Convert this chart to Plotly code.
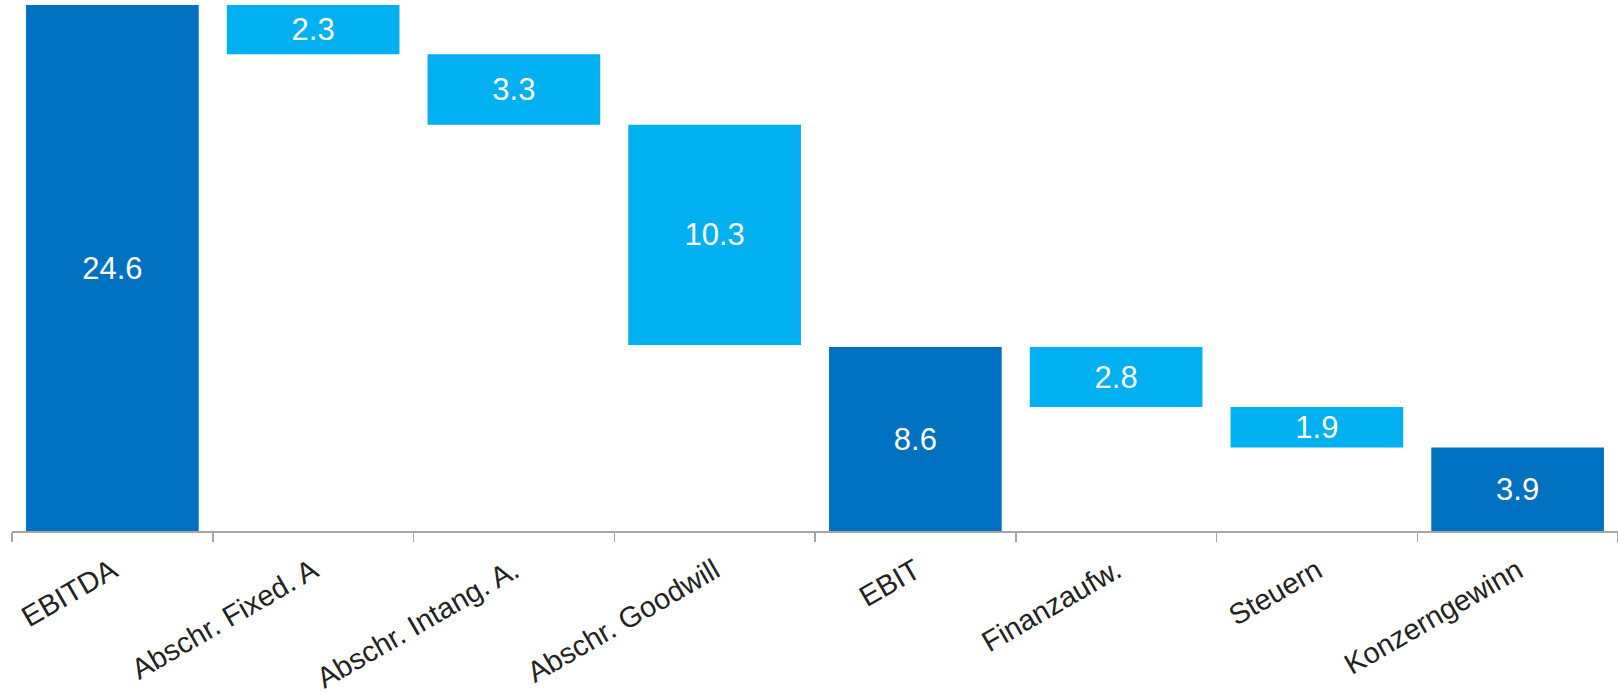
import plotly.graph_objects as go

categories = ["EBITDA", "Abschr. Fixed. A", "Abschr. Intang. A.", "Abschr. Goodwill",
              "EBIT", "Finanzaufw.", "Steuern", "Konzerngewinn"]
values = [24.6, -2.3, -3.3, -10.3, 8.6, -2.8, -1.9, 3.9]
measures = ["absolute", "relative", "relative", "relative",
            "absolute", "relative", "relative", "absolute"]
labels = [f"{abs(v):.1f}" for v in values]

TOTAL_COLOR = "#0070C0"
STEP_COLOR = "#00B0F0"

fig = go.Figure(go.Waterfall(
    x=categories,
    y=values,
    measure=measures,
    text=labels,
    textposition="inside",
    insidetextanchor="middle",
    textfont=dict(color="white", size=31, family="Liberation Sans, Arial, sans-serif"),
    constraintext="none",
    increasing=dict(marker=dict(color=STEP_COLOR, line=dict(width=0))),
    decreasing=dict(marker=dict(color=STEP_COLOR, line=dict(width=0))),
    totals=dict(marker=dict(color=TOTAL_COLOR, line=dict(width=0))),
    connector=dict(visible=False),
    hoverinfo="skip",
))

fig.update_layout(
    width=1618, height=692,
    margin=dict(l=12, r=0, t=5, b=161, autoexpand=False),
    paper_bgcolor="white",
    plot_bgcolor="white",
    showlegend=False,
    waterfallgap=0.14,
    font=dict(family="Liberation Sans, Arial, sans-serif", color="#222222"),
)
fig.update_xaxes(
    automargin=False,
    showline=True, linecolor="#A6A6A6", linewidth=1.5,
    ticks="outside", tickson="boundaries", ticklen=9, tickcolor="#A6A6A6", tickwidth=1.5,
    tickangle=-30, tickfont=dict(size=29, color="#222222"),
    ticklabelstandoff=10,
    showgrid=False,
)
fig.update_yaxes(range=[0, 24.6], visible=False, showgrid=False, zeroline=False, automargin=False)

fig.write_html(
    "out.html",
    config={"displayModeBar": False, "staticPlot": True},
    post_script="document.body.style.margin='0px';document.body.style.overflow='hidden';",
)
